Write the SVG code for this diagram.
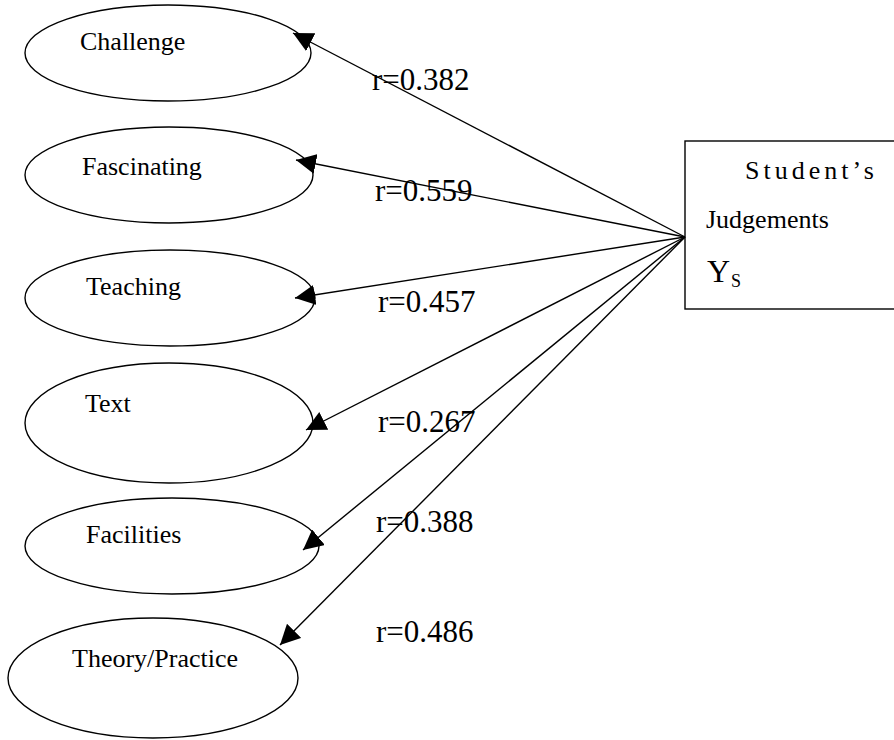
<svg xmlns="http://www.w3.org/2000/svg" width="894" height="740" viewBox="0 0 894 740">
<style>
.n{fill:#fff;stroke:#000;stroke-width:1.4}
.t{font-family:"Liberation Serif","Times New Roman",serif;font-size:26px;fill:#000}
.r{font-family:"Liberation Serif","Times New Roman",serif;font-size:31px;fill:#000}
.c{stroke:#000;stroke-width:1.4;fill:none;marker-end:url(#ah)}
</style>
<defs>
<marker id="ah" markerUnits="userSpaceOnUse" markerWidth="22" markerHeight="20" refX="20" refY="10" orient="auto">
<path d="M0,0 L20,10 L0,20 Z" fill="#000"/>
</marker>
</defs>
<rect width="894" height="740" fill="#fff"/>
<g id="challenge"><ellipse class="n" cx="168" cy="53" rx="143" ry="48"/><text class="t" x="80" y="50">Challenge</text></g>
<g id="fascinating"><ellipse class="n" cx="169" cy="175" rx="144" ry="48"/><text class="t" x="82" y="175">Fascinating</text></g>
<g id="teaching"><ellipse class="n" cx="170" cy="298" rx="145" ry="48"/><text class="t" x="86" y="295">Teaching</text></g>
<g id="text"><ellipse class="n" cx="169" cy="423" rx="144" ry="60"/><text class="t" x="85" y="412">Text</text></g>
<g id="facilities"><ellipse class="n" cx="172" cy="546" rx="147" ry="48"/><text class="t" x="86" y="543">Facilities</text></g>
<g id="theory"><ellipse class="n" cx="153" cy="678" rx="145" ry="60"/><text class="t" x="72" y="667">Theory/Practice</text></g>
<g id="student"><rect class="n" x="685" y="141" width="215" height="168"/>
<text class="t" x="745" y="179" letter-spacing="4">Student’s</text>
<text class="t" x="706" y="228">Judgements</text>
<text class="t" x="707" y="282" style="font-size:32px">Y<tspan style="font-size:18px" dx="1" dy="5">S</tspan></text></g>
<g id="connectors">
<line class="c" x1="685" y1="237" x2="293" y2="33"/>
<line class="c" x1="685" y1="237" x2="296" y2="160"/>
<line class="c" x1="685" y1="237" x2="295" y2="298"/>
<line class="c" x1="685" y1="237" x2="306" y2="430"/>
<line class="c" x1="685" y1="237" x2="303" y2="550"/>
<line class="c" x1="685" y1="237" x2="280" y2="645"/>
</g>
<g id="labels">
<text class="r" x="372" y="90">r=0.382</text>
<text class="r" x="375" y="201">r=0.559</text>
<text class="r" x="378" y="312">r=0.457</text>
<text class="r" x="378" y="432">r=0.267</text>
<text class="r" x="376" y="532">r=0.388</text>
<text class="r" x="376" y="642">r=0.486</text>
</g>
</svg>
